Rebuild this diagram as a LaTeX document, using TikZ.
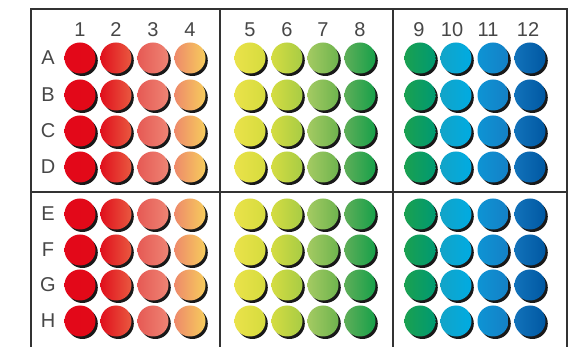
\documentclass[tikz,border=0pt]{standalone}
\usepackage{fontspec}
\setmainfont{Liberation Sans}
\begin{document}
\begin{tikzpicture}[x=1pt,y=-1pt,
  frameline/.style={draw=black!80,line width=1.8pt},
  lbl/.style={font=\fontsize{20}{20}\selectfont,text=black!72,inner sep=0pt},
  well/.style={circle,minimum size=31pt,inner sep=0pt,draw=none}]
\useasboundingbox (0,0) rectangle (571,347);
\fill[white] (0,0) rectangle (571,347);
% column colours (left,right)
\definecolor{l1}{HTML}{E3071A}\definecolor{r1}{HTML}{E20A17}
\definecolor{l2}{HTML}{E0101C}\definecolor{r2}{HTML}{E95840}
\definecolor{l3}{HTML}{E65A55}\definecolor{r3}{HTML}{EE8474}
\definecolor{l4}{HTML}{EE8A6A}\definecolor{r4}{HTML}{F6CC5C}
\definecolor{l5}{HTML}{EAE24A}\definecolor{r5}{HTML}{D6DC3E}
\definecolor{l6}{HTML}{D4DC42}\definecolor{r6}{HTML}{A8CC44}
\definecolor{l7}{HTML}{A4CA62}\definecolor{r7}{HTML}{6EB44E}
\definecolor{l8}{HTML}{5EAE58}\definecolor{r8}{HTML}{17A04A}
\definecolor{l9}{HTML}{1AA050}\definecolor{r9}{HTML}{009A72}
\definecolor{l10}{HTML}{12A4C8}\definecolor{r10}{HTML}{00ABE2}
\definecolor{l11}{HTML}{0E94D4}\definecolor{r11}{HTML}{1480C6}
\definecolor{l12}{HTML}{1272BA}\definecolor{r12}{HTML}{0058A2}
% frame
\draw[frameline] (31,347) -- (31,9) -- (567,9) -- (567,347);
\draw[frameline] (220,9) -- (220,347);
\draw[frameline] (393,9) -- (393,347);
\draw[frameline] (31,192) -- (567,192);
% column labels
\foreach \c/\x in {1/80,2/116,3/153,4/190,5/250,6/287,7/323,8/360,9/419,10/452,11/488,12/528}{
  \node[lbl] (col\c) at (\x,30) {\c};
}
% row labels
\foreach \r/\y in {A/58,B/95,C/131,D/167,E/214,F/250,G/285,H/321}{
  \node[lbl] (row\r) at (48,\y) {\r};
}
% wells
\foreach \r/\y in {A/58,B/95,C/131,D/167,E/214,F/250,G/285,H/321}{
  \foreach \c/\x in {1/80,2/116,3/153,4/190,5/250,6/287,7/323,8/360,9/420,10/456,11/493,12/530}{
    \fill[black!90] (\x+2.4,\y+2.6) circle (15.4pt);
    \node[well,left color=l\c,right color=r\c] (w\r\c) at (\x,\y) {};
  }
}
\end{tikzpicture}
\end{document}
